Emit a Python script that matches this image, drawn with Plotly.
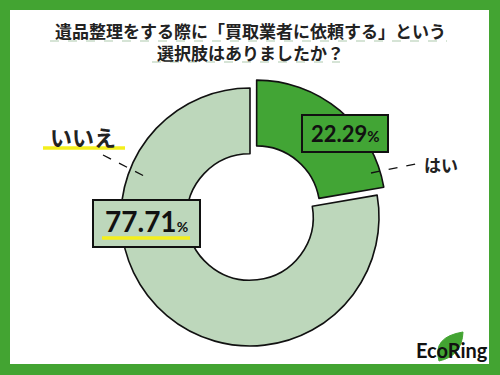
import plotly.graph_objects as go

# ---- data ----
labels = ["はい", "いいえ"]
values = [22.29, 77.71]
slice_colors = ["#42a535", "#bdd7bb"]
title_lines = ["遺品整理をする際に「買取業者に依頼する」という", "選択肢はありましたか？"]
brand = "EcoRing"

W, H = 500, 375
def X(px):
    return px / W
def Y(py):
    return 1 - py / H

JP = "Noto Sans CJK JP"
NUM = "Lato"
GREEN = "#43a432"
YELLOW = "#f4ef1c"

fig = go.Figure()

# pie (donut) geometry: centre (250, 217), outer radius ~129, pulled slice
pull = [0.08, 0]
half = 129 * (1 + max(pull))
cx, cy = 250, 217
fig.add_trace(go.Pie(
    labels=labels, values=values, sort=False, direction="clockwise", rotation=0,
    hole=0.49, pull=pull,
    marker=dict(colors=slice_colors, line=dict(color="#111111", width=1.6)),
    textinfo="none", hoverinfo="label+percent", showlegend=False,
    domain=dict(x=[X(cx - half), X(cx + half)], y=[Y(cy + half), Y(cy - half)]),
))

shapes = []
annotations = []

# white inner panel (green frame comes from paper background)
shapes.append(dict(type="rect", xref="paper", yref="paper", layer="below",
                   x0=X(10), x1=X(489), y0=Y(364), y1=Y(10),
                   fillcolor="white", line=dict(width=0)))

# title (two lines) with dashed underlines
annotations.append(dict(text="<br>".join(title_lines), xref="paper", yref="paper",
                        x=X(250), y=Y(41.5), xanchor="center", yanchor="middle",
                        showarrow=False, align="center",
                        font=dict(family=JP, size=17, color="#222222", weight="bold")))
for ux0, ux1, uy in [(50, 447, 41), (152, 340, 62)]:
    shapes.append(dict(type="line", xref="paper", yref="paper",
                       x0=X(ux0), x1=X(ux1), y0=Y(uy), y1=Y(uy),
                       line=dict(color="#c9dcc9", width=1.5, dash="dash")))

# value boxes
boxes = [
    dict(x0=302, x1=388, y0=115, y1=152, fill=slice_colors[0], tx=345, ty=133,
         size=22, psize=15, underline=None),
    dict(x0=93, x1=200, y0=200, y1=247, fill=slice_colors[1], tx=146, ty=221,
         size=28, psize=14, underline=(102, 190, 238)),
]
for v, b in zip(values, boxes):
    shapes.append(dict(type="rect", xref="paper", yref="paper", layer="above",
                       x0=X(b["x0"]), x1=X(b["x1"]), y0=Y(b["y1"]), y1=Y(b["y0"]),
                       fillcolor=b["fill"], line=dict(color="#111111", width=2)))
    if b["underline"]:
        ux0, ux1, uy = b["underline"]
        shapes.append(dict(type="line", xref="paper", yref="paper", layer="above",
                           x0=X(ux0), x1=X(ux1), y0=Y(uy), y1=Y(uy),
                           line=dict(color=YELLOW, width=3.5)))
    annotations.append(dict(
        text=f"{v:.2f}<span style='font-size:{b['psize']}px'>%</span>",
        xref="paper", yref="paper", x=X(b["tx"]), y=Y(b["ty"]),
        xanchor="center", yanchor="middle", showarrow=False,
        font=dict(family=NUM, size=b["size"], color="#111111", weight="bold")))

# category labels with dashed leaders
# はい
annotations.append(dict(text=labels[0], xref="paper", yref="paper", x=X(441), y=Y(164),
                        xanchor="center", yanchor="middle", showarrow=False,
                        font=dict(family=JP, size=17, color="#222222", weight="bold")))
shapes.append(dict(type="line", xref="paper", yref="paper", layer="above",
                   x0=X(371), x1=X(416), y0=Y(173), y1=Y(164),
                   line=dict(color="#111111", width=1.3, dash="dash")))
# いいえ
annotations.append(dict(text=labels[1], xref="paper", yref="paper", x=X(83), y=Y(136),
                        xanchor="center", yanchor="middle", showarrow=False,
                        font=dict(family=JP, size=22, color="#222222", weight="bold")))
shapes.append(dict(type="line", xref="paper", yref="paper",
                   x0=X(43), x1=X(125), y0=Y(148), y1=Y(148),
                   line=dict(color=YELLOW, width=3.5)))
shapes.append(dict(type="line", xref="paper", yref="paper", layer="above",
                   x0=X(103), x1=X(148), y0=Y(155), y1=Y(178),
                   line=dict(color="#111111", width=1.3, dash="dash")))

# logo: leaf + wordmark
def P(px, py):
    return f"{X(px):.5f},{Y(py):.5f}"
leaf = (f"M {P(439,361)} Q {P(432,337)} {P(463,332)} "
        f"Q {P(462,356)} {P(439,361)} Z")
shapes.append(dict(type="path", xref="paper", yref="paper", layer="above",
                   path=leaf, fillcolor=GREEN, line=dict(color=GREEN, width=1)))
annotations.append(dict(text=f"<b>{brand}</b>", xref="paper", yref="paper",
                        x=X(452), y=Y(350), xanchor="center", yanchor="middle",
                        showarrow=False,
                        font=dict(family="Lato", size=20, color="#111111")))

fig.update_layout(
    width=W, height=H, margin=dict(l=0, r=0, t=0, b=0),
    paper_bgcolor=GREEN, plot_bgcolor="white",
    shapes=shapes, annotations=annotations,
)
fig.write_html("out.html", config={"displayModeBar": False},
               post_script="document.body.style.margin='0';document.body.style.overflow='hidden';")
